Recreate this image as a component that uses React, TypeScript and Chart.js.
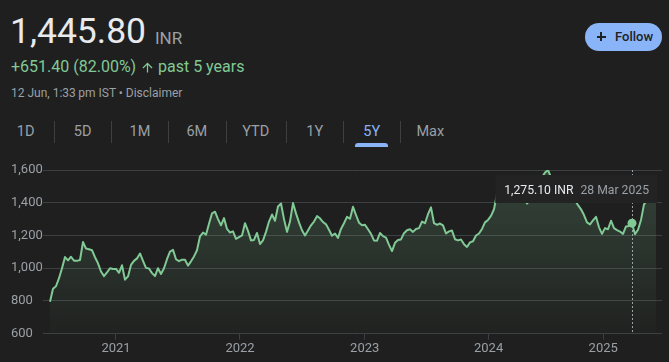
import React, { useEffect, useRef } from "react";
import { Chart, registerables } from "chart.js";

Chart.register(...registerables);

// ---- data ----
const prices: number[] = [
  795, 875, 890, 939, 1000, 1068, 1048, 1070, 1046, 1045,
  1050, 1160, 1120, 1116, 1110, 1067, 1030, 980, 952, 975,
  1000, 995, 996, 972, 1018, 930, 950, 1020, 1045, 1060,
  1090, 1045, 1002, 998, 970, 952, 1000, 965, 1000, 1055,
  1102, 1112, 1055, 1043, 1052, 1052, 1016, 1042, 1072, 1110,
  1195, 1218, 1205, 1272, 1335, 1345, 1300, 1262, 1306, 1240,
  1218, 1225, 1180, 1190, 1200, 1275, 1228, 1170, 1173, 1215,
  1148, 1170, 1222, 1285, 1328, 1290, 1377, 1395, 1300, 1222,
  1285, 1398, 1335, 1280, 1232, 1200, 1230, 1262, 1285, 1318,
  1305, 1282, 1268, 1235, 1198, 1212, 1185, 1240, 1275, 1314,
  1302, 1375, 1325, 1278, 1262, 1265, 1238, 1210, 1170, 1168,
  1215, 1196, 1187, 1143, 1105, 1155, 1172, 1176, 1214, 1232,
  1238, 1222, 1240, 1245, 1285, 1275, 1330, 1372, 1275, 1265,
  1273, 1262, 1212, 1225, 1230, 1177, 1170, 1175, 1147, 1130,
  1158, 1165, 1200, 1212, 1240, 1280, 1295, 1320, 1360, 1455,
  1475, 1465, 1490, 1470, 1485, 1500, 1475, 1455, 1430, 1395,
  1420, 1465, 1500, 1530, 1555, 1585, 1600, 1555, 1520, 1505,
  1490, 1500, 1480, 1470, 1445, 1415, 1385, 1360, 1325, 1280,
  1268, 1292, 1314, 1250, 1210, 1245, 1238, 1290, 1245, 1233,
  1224, 1210, 1255, 1258, 1275.1, 1208, 1235, 1295, 1390, 1415,
  1430, 1438, 1445.8,
];
const yearLabels: string[] = ["2021", "2022", "2023", "2024", "2025"];
const yearTickIndex: number[] = [22, 63.33, 104.9, 146.2, 184.4];
const yTickValues: number[] = [600, 800, 1000, 1200, 1400, 1600];
const hoverIndex = 194;
const hoverDate = "28 Mar 2025";
const currency = "INR";
const lastPrice = "1,445.80";
const changeText = "+651.40 (82.00%)";
const periodText = "past 5 years";
const timeText = "12 Jun, 1:33\u2009pm IST • Disclaimer";
const tabs: string[] = ["1D", "5D", "1M", "6M", "YTD", "1Y", "5Y", "Max"];
const activeTab = "5Y";

// ---- styles ----
const BG = "#1f1f1f";
const GREEN = "#81c995";
const GRID = "#3c4043";
const GREY = "#9aa0a6";
const LIGHT = "#e8eaed";
const BLUE = "#8ab4f8";
const FONT = "Roboto, 'Noto Sans', sans-serif";

const tabCenters = [25.7, 82.7, 140, 196.8, 255.7, 314.8, 371.7, 430.3];
const sepXs = [54.3, 111.3, 168.3, 225.7, 286, 343.3, 400.3];

function Txt(props: {
  x: number;
  base: number;
  size: number;
  color: string;
  weight?: number;
  center?: boolean;
  children: React.ReactNode;
}) {
  const { x, base, size, color, weight = 400, center, children } = props;
  const top = base - 0.8418 * size;
  const style: React.CSSProperties = {
    position: "absolute",
    top,
    fontFamily: FONT,
    fontSize: size,
    lineHeight: `${size}px`,
    color,
    fontWeight: weight,
    whiteSpace: "nowrap",
  };
  if (center) {
    style.left = x - 60;
    style.width = 120;
    style.textAlign = "center";
  } else {
    style.left = x;
  }
  return <div style={style}>{children}</div>;
}

export default function App() {
  const ref = useRef<HTMLCanvasElement | null>(null);

  useEffect(() => {
    document.body.style.margin = "0";
    document.body.style.background = BG;
    const canvas = ref.current!;
    const hoverPlugin = {
      id: "hoverMarker",
      beforeDatasetsDraw(chart: any) {
        const { ctx, chartArea, scales } = chart;
        const px = Math.round(scales.x.getPixelForValue(hoverIndex)) + 0.5;
        ctx.save();
        ctx.strokeStyle = GREY;
        ctx.lineWidth = 1;
        ctx.setLineDash([2, 2]);
        ctx.beginPath();
        ctx.moveTo(px, chartArea.top);
        ctx.lineTo(px, chartArea.bottom);
        ctx.stroke();
        ctx.restore();
      },
      afterDatasetsDraw(chart: any) {
        const { ctx } = chart;
        const pt = chart.getDatasetMeta(0).data[hoverIndex];
        ctx.save();
        ctx.fillStyle = GREEN;
        ctx.beginPath();
        ctx.arc(pt.x, pt.y, 4.5, 0, Math.PI * 2);
        ctx.fill();
        ctx.restore();
      },
      afterDraw(chart: any) {
        const { ctx, chartArea } = chart;
        ctx.save();
        ctx.font = `12.2px ${FONT}`;
        const t1 =
          prices[hoverIndex].toLocaleString("en-US", {
            minimumFractionDigits: 2,
            maximumFractionDigits: 2,
          }) +
          " " +
          currency;
        const t2 = hoverDate;
        const w1 = ctx.measureText(t1).width;
        const w2 = ctx.measureText(t2).width;
        const padL = 9,
          gap = 7,
          padR = 8;
        const w = padL + w1 + gap + w2 + padR;
        const right = chartArea.right - 5;
        const left = right - w;
        const top = chartArea.top + 5;
        const h = 28;
        ctx.fillStyle = "#232323";
        ctx.fillRect(left, top, w, h);
        ctx.textBaseline = "alphabetic";
        ctx.fillStyle = LIGHT;
        ctx.fillText(t1, left + padL, top + 18.5);
        ctx.fillStyle = GREY;
        ctx.fillText(t2, left + padL + w1 + gap, top + 18.5);
        ctx.restore();
      },
    };

    const chart = new Chart(canvas, {
      type: "line",
      data: {
        datasets: [
          {
            data: prices.map((v, i) => ({ x: i, y: v })),
            borderColor: GREEN,
            borderWidth: 2,
            pointRadius: 0,
            tension: 0,
            borderJoinStyle: "round",
            fill: "start",
            backgroundColor: (c: any) => {
              const ch = c.chart;
              const area = ch.chartArea;
              if (!area) return "rgba(129,201,149,0.1)";
              const g = ch.ctx.createLinearGradient(0, area.top, 0, area.bottom);
              g.addColorStop(0, "rgba(129,201,149,0.22)");
              g.addColorStop(1, "rgba(129,201,149,0.02)");
              return g;
            },
          },
        ],
      },
      options: {
        animation: false,
        responsive: false,
        devicePixelRatio: 1,
        events: [],
        layout: { padding: { left: 11, right: 7, top: 10, bottom: 0 } },
        plugins: { legend: { display: false }, tooltip: { enabled: false } },
        scales: {
          x: {
            type: "linear",
            min: -7 / 3,
            max: prices.length - 1 + 2,
            afterBuildTicks: (s: any) => {
              s.ticks = yearTickIndex.map((value) => ({ value }));
            },
            afterFit: (s: any) => {
              s.height = 28.3;
            },
            ticks: {
              autoSkip: false,
              maxRotation: 0,
              color: GREY,
              padding: 1,
              font: { family: FONT, size: 13 },
              callback: (v: any) => {
                const k = yearTickIndex.indexOf(v);
                return k >= 0 ? yearLabels[k] : "";
              },
            },
            grid: {
              drawOnChartArea: false,
              drawTicks: true,
              tickLength: 6,
              color: GRID,
            },
            border: { display: false },
          },
          y: {
            min: yTickValues[0],
            max: yTickValues[yTickValues.length - 1],
            afterBuildTicks: (s: any) => {
              s.ticks = yTickValues.map((value) => ({ value }));
            },
            afterFit: (s: any) => {
              s.width = 32;
            },
            ticks: {
              color: GREY,
              crossAlign: "far",
              padding: 0,
              font: { family: FONT, size: 13 },
              callback: (v: any) => Number(v).toLocaleString("en-US"),
            },
            grid: { color: GRID, drawTicks: false },
            border: { display: false },
          },
        },
      },
      plugins: [hoverPlugin],
    } as any);
    return () => chart.destroy();
  }, []);

  return (
    <div
      style={{
        position: "absolute",
        left: 0,
        top: 0,
        width: 669,
        height: 362,
        background: BG,
        overflow: "hidden",
      }}
    >
      <Txt x={10} base={44} size={35.5} color={LIGHT}>
        {lastPrice}
      </Txt>
      <Txt x={155} base={44} size={17} color={GREY}>
        {currency}
      </Txt>
      <Txt x={11} base={72} size={16} color={GREEN}>
        {changeText}
      </Txt>
      <svg
        width={15}
        height={15}
        viewBox="0 0 24 24"
        style={{ position: "absolute", left: 140, top: 59.5 }}
      >
        <path
          fill={GREEN}
          d="M4 12l1.41 1.41L11 7.83V20h2V7.83l5.58 5.59L20 12l-8-8-8 8z"
        />
      </svg>
      <Txt x={158} base={72} size={16} color={GREEN}>
        {periodText}
      </Txt>
      <Txt x={11} base={97} size={12} color={GREY}>
        {timeText}
      </Txt>

      {tabs.map((t, i) => (
        <Txt
          key={t}
          x={tabCenters[i]}
          base={137.7}
          size={14.5}
          color={t === activeTab ? BLUE : GREY}
          center
        >
          {t}
        </Txt>
      ))}
      {sepXs.map((x, i) => (
        <div
          key={i}
          style={{
            position: "absolute",
            left: Math.round(x),
            top: 121,
            width: 1,
            height: 22,
            background: GRID,
          }}
        />
      ))}
      <div
        style={{
          position: "absolute",
          left: 355,
          top: 143,
          width: 33,
          height: 4,
          background: BLUE,
          borderRadius: "3px 3px 0 0",
        }}
      />

      <div
        style={{
          position: "absolute",
          left: 585,
          top: 23,
          width: 77,
          height: 28,
          borderRadius: 14,
          background: BLUE,
        }}
      >
        <div style={{ position: "absolute", left: 11.5, top: 13, width: 9, height: 1.6, background: "#202124" }} />
        <div style={{ position: "absolute", left: 15.2, top: 9.3, width: 1.6, height: 9, background: "#202124" }} />
      </div>
      <Txt x={615} base={41} size={13} color="#202124" weight={500}>
        Follow
      </Txt>

      <canvas
        ref={ref}
        width={669}
        height={202}
        style={{ position: "absolute", left: 0, top: 160, width: 669, height: 202 }}
      />
    </div>
  );
}
